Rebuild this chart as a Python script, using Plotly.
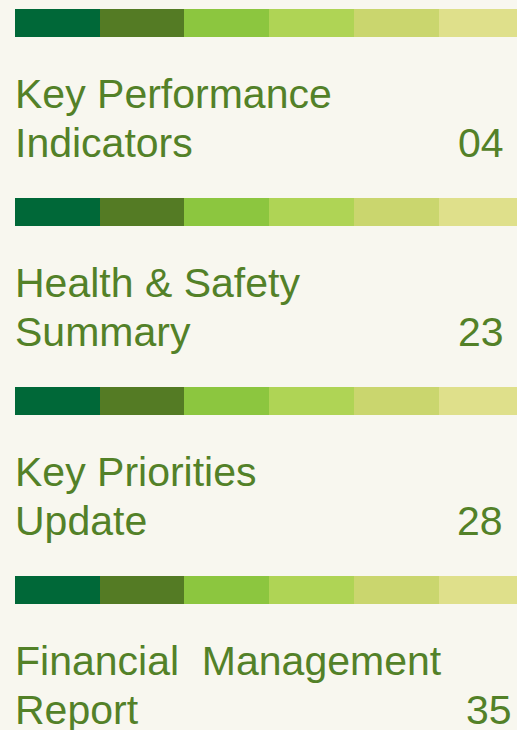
import plotly.graph_objects as go

# Data
titles_line1 = ["Key Performance", "Health & Safety", "Key Priorities", "Financial  Management"]
titles_line2 = ["Indicators", "Summary", "Update", "Report"]
page_numbers = ["04", "23", "28", "35"]
segment_colors = ["#006838", "#547B24", "#8CC63F", "#AFD455", "#CAD66E", "#DFE08B"]

W, H = 517, 730
BG = "#F8F7EF"
TXT = "#538128"
FONT = "Liberation Sans, Arial, sans-serif"
FS = 41

x0 = 15
seg_w = 84.7
bar_h = 28
bar_top0 = 9
pitch = 189
num_right_edges = [506, 506, 505, 514]  # layout: right anchor of page numbers

n = len(titles_line1)
bar_centers = [bar_top0 + i * pitch + bar_h / 2 for i in range(n)]

fig = go.Figure()
for j, col in enumerate(segment_colors):
    fig.add_trace(go.Bar(
        orientation="h",
        y=bar_centers,
        x=[seg_w] * n,
        base=[x0 + j * seg_w] * n,
        width=bar_h,
        marker=dict(color=col, line=dict(width=0)),
        showlegend=False,
        hoverinfo="skip",
    ))

annotations = []
for i in range(n):
    top = bar_top0 + i * pitch
    b1 = top + 99
    b2 = top + 148
    for txt, base in ((titles_line1[i], b1), (titles_line2[i], b2)):
        annotations.append(dict(
            x=x0 - 2, y=base - 0.33 * FS, xref="x", yref="y",
            text=txt, showarrow=False, xanchor="left", yanchor="middle",
            font=dict(family=FONT, size=FS, color=TXT),
        ))
    annotations.append(dict(
        x=num_right_edges[i], y=b2 - 0.33 * FS, xref="x", yref="y",
        text=page_numbers[i], showarrow=False, xanchor="right", yanchor="middle",
        font=dict(family=FONT, size=FS, color=TXT),
    ))

fig.update_layout(
    width=W, height=H,
    margin=dict(l=0, r=0, t=0, b=0),
    paper_bgcolor=BG, plot_bgcolor=BG,
    barmode="overlay",
    bargap=0,
    xaxis=dict(range=[0, W], visible=False, fixedrange=True),
    yaxis=dict(range=[H, 0], visible=False, fixedrange=True),
    annotations=annotations,
)

fig.write_html(
    "out.html",
    config={"displayModeBar": False},
    post_script="document.body.style.margin='0';document.body.style.overflow='hidden';document.body.style.background='" + BG + "';",
)
